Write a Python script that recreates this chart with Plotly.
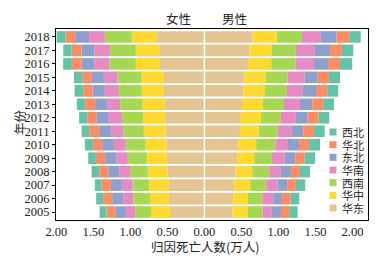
import plotly.graph_objects as go

years = list(range(2005, 2019))
regions = ["华东", "华中", "西南", "华南", "东北", "华北", "西北"]
colors = ["#e5c494", "#ffd92f", "#a6d854", "#e78ac3", "#8da0cb", "#fc8d62", "#66c2a5"]

female_huadong = [0.466, 0.480, 0.480, 0.497, 0.507, 0.511, 0.524, 0.530, 0.538, 0.547, 0.547, 0.601, 0.601, 0.651]
female_huazhong = [0.257, 0.256, 0.266, 0.267, 0.270, 0.284, 0.294, 0.297, 0.297, 0.298, 0.302, 0.325, 0.325, 0.329]
female_xinan = [0.212, 0.226, 0.224, 0.239, 0.257, 0.266, 0.279, 0.288, 0.303, 0.311, 0.324, 0.355, 0.351, 0.365]
female_huanan = [0.126, 0.135, 0.145, 0.148, 0.152, 0.162, 0.167, 0.176, 0.180, 0.189, 0.185, 0.208, 0.207, 0.212]
female_dongbei = [0.144, 0.149, 0.149, 0.149, 0.155, 0.158, 0.158, 0.162, 0.158, 0.166, 0.162, 0.170, 0.175, 0.189]
female_huabei = [0.117, 0.122, 0.125, 0.122, 0.125, 0.122, 0.135, 0.131, 0.135, 0.127, 0.131, 0.132, 0.135, 0.130]
female_xibei = [0.094, 0.094, 0.091, 0.102, 0.104, 0.112, 0.102, 0.108, 0.112, 0.116, 0.113, 0.117, 0.113, 0.121]

male_huadong = [0.381, 0.389, 0.403, 0.422, 0.443, 0.457, 0.480, 0.493, 0.507, 0.524, 0.538, 0.588, 0.605, 0.651]
male_huazhong = [0.203, 0.199, 0.216, 0.224, 0.230, 0.243, 0.256, 0.271, 0.279, 0.294, 0.289, 0.315, 0.307, 0.325]
male_xinan = [0.202, 0.193, 0.216, 0.230, 0.239, 0.257, 0.253, 0.270, 0.288, 0.297, 0.297, 0.329, 0.324, 0.342]
male_huanan = [0.126, 0.149, 0.154, 0.158, 0.172, 0.171, 0.193, 0.202, 0.217, 0.216, 0.230, 0.248, 0.257, 0.256]
male_dongbei = [0.122, 0.117, 0.130, 0.135, 0.143, 0.149, 0.153, 0.159, 0.166, 0.176, 0.176, 0.189, 0.203, 0.212]
male_huabei = [0.112, 0.118, 0.117, 0.122, 0.127, 0.135, 0.145, 0.148, 0.148, 0.152, 0.152, 0.162, 0.162, 0.171]
male_xibei = [0.113, 0.116, 0.126, 0.135, 0.139, 0.149, 0.144, 0.143, 0.145, 0.149, 0.149, 0.166, 0.153, 0.154]

female = [female_huadong, female_huazhong, female_xinan, female_huanan, female_dongbei, female_huabei, female_xibei]
male = [male_huadong, male_huazhong, male_xinan, male_huanan, male_dongbei, male_huabei, male_xibei]

tick_vals = [-2.0, -1.5, -1.0, -0.5, 0.0, 0.5, 1.0, 1.5, 2.0]
tick_text = ["2.00", "1.50", "1.00", "0.50", "0.00", "0.50", "1.00", "1.50", "2.00"]
legend_order = ["西北", "华北", "东北", "华南", "西南", "华中", "华东"]

SERIF = "Liberation Serif, Times New Roman, serif"
CJK = "Noto Sans CJK SC"

fig = go.Figure()
for name, col, f, m in zip(regions, colors, female, male):
    fig.add_trace(go.Bar(y=years, x=[-v for v in f], orientation="h", marker=dict(color=col, line=dict(width=0)),
                         name=name, showlegend=False, width=0.86))
    fig.add_trace(go.Bar(y=years, x=m, orientation="h", marker=dict(color=col, line=dict(width=0)),
                         name=name, showlegend=False, width=0.86))

W, H = 386, 256
ml, mr, mt, mb = 56, 18, 29, 36
pw, ph = W - ml - mr, H - mt - mb

def px_x(x):
    return (x - ml) / pw

def px_y(y):
    return (H - mb - y) / ph

shapes = [dict(type="line", xref="x", yref="paper", x0=0, x1=0, y0=0, y1=1,
               line=dict(color="white", width=1.5), layer="above")]
annotations = []
for i, name in enumerate(legend_order):
    cy = 132 + i * 12.67
    col = colors[regions.index(name)]
    shapes.append(dict(type="rect", xref="paper", yref="paper",
                       x0=px_x(329.5), x1=px_x(336.5), y0=px_y(cy + 3.5), y1=px_y(cy - 3.5),
                       fillcolor=col, line=dict(width=0), layer="above"))
    annotations.append(dict(text=name, xref="paper", yref="paper", x=px_x(339.5), y=px_y(cy),
                            xanchor="left", yanchor="middle", showarrow=False,
                            font=dict(family=CJK, size=11, color="#222")))

annotations += [
    dict(text="女性", xref="paper", yref="paper", x=px_x(178), y=px_y(18), showarrow=False,
         xanchor="center", yanchor="middle", font=dict(family=CJK, size=12.5, color="#222")),
    dict(text="男性", xref="paper", yref="paper", x=px_x(234), y=px_y(18), showarrow=False,
         xanchor="center", yanchor="middle", font=dict(family=CJK, size=12.5, color="#222")),
    dict(text="归因死亡人数(万人)", xref="paper", yref="paper", x=px_x(205), y=px_y(246), showarrow=False,
         xanchor="center", yanchor="middle", font=dict(family=CJK, size=12.5, color="#222")),
    dict(text="年份", xref="paper", yref="paper", x=px_x(19), y=px_y(122), showarrow=False, textangle=-90,
         xanchor="center", yanchor="middle", font=dict(family=CJK, size=12.5, color="#222")),
]

fig.update_layout(
    width=W, height=H,
    margin=dict(l=ml, r=mr, t=mt, b=mb, pad=0),
    barmode="relative",
    plot_bgcolor="white", paper_bgcolor="white",
    showlegend=False,
    shapes=shapes, annotations=annotations,
    font=dict(family=SERIF, size=12, color="#222"),
)
fig.update_xaxes(range=[-2.005, 2.21], tickvals=tick_vals, ticktext=tick_text, ticks="",
                 showgrid=False, zeroline=False, showline=True, linecolor="black", linewidth=1.2,
                 mirror=True, tickfont=dict(family=SERIF, size=12.5, color="#222"))
fig.update_yaxes(range=[2004.41, 2018.59], tickvals=years, ticks="outside", ticklen=3, tickcolor="black",
                 showgrid=False, zeroline=False, showline=True, linecolor="black", linewidth=1.2,
                 mirror=True, tickfont=dict(family=SERIF, size=12.5, color="#222"))

fig.write_html("out.html", config={"displayModeBar": False},
               post_script="document.body.style.margin='0';document.body.style.overflow='hidden';")
